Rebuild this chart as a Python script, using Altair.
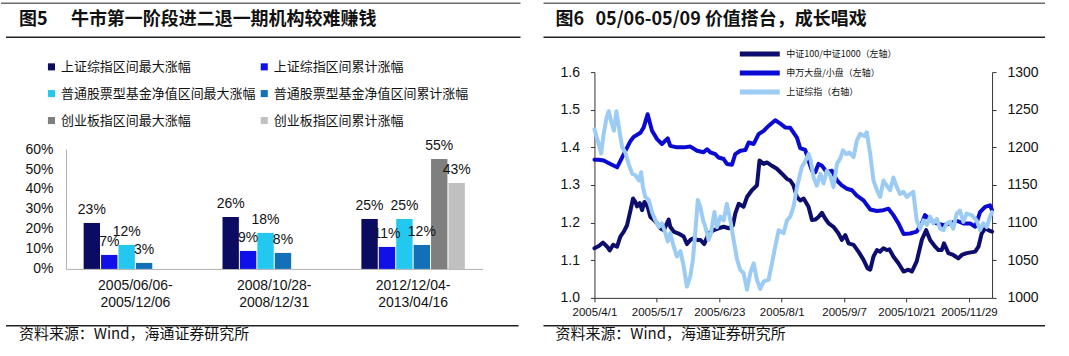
import altair as alt
import pandas as pd

FONT_CJK = "Noto Sans CJK SC"
FONT_LAT = "Liberation Sans"
W1, W2, H = 530, 539, 356

# ---------------- Left panel data (图5) ----------------
periods = ["2005/06/06-2005/12/06", "2008/10/28-2008/12/31", "2012/12/04-2013/04/16"]
bar_series = ["上证综指区间最大涨幅", "上证综指区间累计涨幅",
              "普通股票型基金净值区间最大涨幅", "普通股票型基金净值区间累计涨幅",
              "创业板指区间最大涨幅", "创业板指区间累计涨幅"]
bar_colors = ["#0b0b62", "#1010e8", "#22c8f0", "#1170b8", "#7f7f7f", "#c0c0c0"]
sz_max = [0.23, 0.26, 0.25]
sz_cum = [0.07, 0.09, 0.11]
fund_max = [0.12, 0.18, 0.25]
fund_cum = [0.03, 0.08, 0.12]
cyb_max = [None, None, 0.55]
cyb_cum = [None, None, 0.43]
pct_ticks = [0, 0.1, 0.2, 0.3, 0.4, 0.5, 0.6]

# ---------------- Right panel data (图6) ----------------
line_names = ["中证100/中证1000（左轴）", "申万大盘/小盘（左轴）", "上证综指（右轴）"]
line_colors = ["#0d0d6e", "#0a0ad2", "#9ccbf4"]
x_tick_vals = [0, 27, 54, 81, 108, 135, 162]
x_tick_labels = ["2005/4/1", "2005/5/17", "2005/6/23", "2005/8/1", "2005/9/7", "2005/10/21", "2005/11/29"]

navy_t = [0, 1.9, 3.7, 5.5, 6.6, 8.1, 9.8, 11.2, 12.7, 14.1, 15.6, 16.7, 17.7, 18.4, 19.6, 20.6, 21.6, 23.0,
          24.2, 25.6, 27.1, 28.5, 30.0, 32.1, 32.8, 34.3, 36.4, 38.6, 40.0, 41.5, 42.9, 44.4, 45.8, 47.5, 49.4,
          51.6, 53.7, 55.9, 58.1, 59.9, 60.9, 62.4, 64.5, 66.0, 68.1, 70.3, 71.4, 73.2, 74.6, 76.8, 78.9, 81.1,
          83.3, 84.7, 86.1, 87.6, 89.0, 90.5, 92.6, 94.1, 95.5, 96.9, 98.4, 99.8, 101.3, 103.4, 105.6, 107.0,
          108.5, 109.9, 112.1, 114.2, 116.4, 118.1, 119.3, 120.7, 122.2, 123.6, 125.0, 126.5, 127.6, 129.3,
          131.5, 133.7, 135.8, 137.3, 139.4, 141.6, 143.5, 145.2, 147.4, 148.8, 150.2, 151.2, 153.1, 155.2,
          157.4, 158.9, 161.0, 164.7, 166.1, 167.5, 169.0, 171.1, 172.0]
navy_v = [1.132, 1.138, 1.147, 1.136, 1.126, 1.141, 1.136, 1.163, 1.176, 1.193, 1.233, 1.264, 1.255, 1.243,
          1.252, 1.233, 1.255, 1.242, 1.215, 1.208, 1.198, 1.185, 1.180, 1.208, 1.189, 1.176, 1.171, 1.163,
          1.143, 1.154, 1.158, 1.154, 1.154, 1.143, 1.171, 1.180, 1.185, 1.189, 1.185, 1.193, 1.224, 1.250,
          1.242, 1.268, 1.286, 1.299, 1.365, 1.356, 1.360, 1.351, 1.343, 1.330, 1.316, 1.312, 1.299, 1.268,
          1.259, 1.264, 1.242, 1.207, 1.208, 1.215, 1.226, 1.211, 1.198, 1.189, 1.171, 1.154, 1.167, 1.145,
          1.141, 1.123, 1.101, 1.079, 1.075, 1.110, 1.127, 1.123, 1.132, 1.127, 1.129, 1.110, 1.092, 1.070,
          1.075, 1.070, 1.097, 1.154, 1.180, 1.154, 1.136, 1.127, 1.127, 1.145, 1.119, 1.114, 1.105, 1.114,
          1.119, 1.123, 1.136, 1.171, 1.185, 1.178, 1.176]

blue_t = [0, 1.9, 4.0, 6.9, 9.8, 12.7, 15.6, 17.0, 19.9, 21.3, 23.0, 24.9, 27.1, 29.2, 31.7, 32.8, 35.7, 38.6,
          41.5, 44.4, 47.2, 48.7, 50.1, 52.3, 53.7, 55.9, 57.3, 59.5, 60.9, 63.1, 65.3, 66.7, 68.9, 71.0, 73.2,
          75.3, 78.2, 80.4, 82.5, 84.7, 87.6, 89.0, 91.2, 92.6, 94.1, 95.5, 96.9, 98.4, 100.5, 102.7, 104.9,
          107.0, 109.2, 111.4, 113.5, 116.4, 119.3, 122.2, 125.0, 127.2, 129.3, 131.5, 133.7, 136.5, 139.4,
          141.6, 143.0, 145.2, 148.1, 151.0, 153.8, 156.7, 159.6, 162.5, 164.7, 166.8, 169.0, 171.1, 172.0]
blue_v = [1.367, 1.367, 1.365, 1.356, 1.347, 1.382, 1.417, 1.428, 1.439, 1.453, 1.488, 1.444, 1.422, 1.409,
          1.424, 1.404, 1.400, 1.400, 1.402, 1.391, 1.387, 1.395, 1.387, 1.382, 1.373, 1.369, 1.356, 1.354,
          1.382, 1.391, 1.393, 1.413, 1.409, 1.435, 1.444, 1.457, 1.472, 1.463, 1.453, 1.452, 1.426, 1.398,
          1.393, 1.365, 1.338, 1.334, 1.356, 1.351, 1.334, 1.338, 1.312, 1.299, 1.290, 1.286, 1.272, 1.259,
          1.235, 1.231, 1.233, 1.237, 1.220, 1.198, 1.170, 1.171, 1.176, 1.198, 1.220, 1.207, 1.198, 1.193,
          1.198, 1.205, 1.198, 1.198, 1.189, 1.228, 1.242, 1.246, 1.233]

sh_t = [0, 1.9, 2.9, 4.0, 5.2, 6.2, 7.2, 8.4, 9.5, 10.5, 12.0, 13.4, 14.8, 16.3, 17.7, 19.2, 20.2, 21.0, 22.0,
        23.5, 24.9, 26.4, 27.8, 29.2, 30.7, 31.7, 32.8, 34.3, 35.7, 37.2, 38.6, 40.0, 41.5, 42.6, 43.6, 44.7,
        45.8, 47.0, 48.0, 49.4, 50.4, 51.9, 53.0, 54.5, 55.9, 57.3, 58.8, 60.2, 61.7, 63.1, 64.5, 66.0, 67.4,
        68.9, 70.3, 71.7, 73.2, 75.3, 76.8, 78.2, 79.7, 81.8, 83.3, 84.7, 86.1, 87.6, 89.7, 91.2, 92.6, 93.6,
        94.8, 96.2, 97.7, 99.1, 100.5, 101.9, 103.4, 104.9, 106.3, 107.5, 108.9, 110.3, 112.1, 113.5, 114.9,
        116.7, 117.8, 119.3, 120.7, 122.2, 123.6, 125.0, 126.5, 127.9, 129.3, 130.8, 132.2, 133.7, 135.1,
        136.5, 137.9, 139.4, 140.9, 142.3, 143.8, 145.2, 146.6, 148.1, 149.5, 151.0, 152.4, 153.8, 155.2,
        156.7, 158.1, 159.6, 161.0, 163.2, 165.3, 166.8, 168.2, 169.7, 171.1, 172.0]
sh_v = [1224, 1204, 1192, 1218, 1239, 1248, 1235, 1222, 1248, 1228, 1200, 1193, 1178, 1165, 1163, 1156, 1167,
        1147, 1134, 1130, 1114, 1103, 1094, 1099, 1086, 1075, 1086, 1068, 1055, 1062, 1042, 1015, 1029, 1051,
        1086, 1130, 1121, 1103, 1094, 1077, 1086, 1114, 1094, 1108, 1103, 1125, 1103, 1077, 1051, 1037, 1033,
        1011, 1033, 1046, 1024, 1012, 1022, 1024, 1046, 1068, 1090, 1086, 1103, 1108, 1121, 1147, 1174, 1182,
        1191, 1182, 1160, 1149, 1165, 1152, 1169, 1163, 1147, 1178, 1185, 1196, 1191, 1193, 1187, 1209, 1218,
        1215, 1220, 1191, 1156, 1143, 1134, 1156, 1149, 1143, 1160, 1147, 1138, 1141, 1134, 1138, 1141, 1103,
        1092, 1103, 1097, 1108, 1099, 1105, 1092, 1090, 1099, 1101, 1092, 1112, 1116, 1101, 1112, 1110, 1103,
        1090, 1099, 1094, 1108, 1114]

title_left = ["图5", "牛市第一阶段进二退一期机构较难赚钱"]
title_right = ["图6", "05/06-05/09 价值搭台，成长唱戏"]
source_text = "资料来源：Wind，海通证券研究所"

# ---------------- helpers ----------------
one = pd.DataFrame({"k": [0]})


def hrule(x1, x2, y, w=1.2):
    return alt.Chart(one).mark_rule(color="#222222", strokeWidth=w).encode(
        x=alt.value(x1), x2=alt.value(x2), y=alt.value(y))


def label(txt, x, y, size, bold=False, font=FONT_CJK):
    return alt.Chart(pd.DataFrame({"txt": [txt]})).mark_text(
        align="left", baseline="middle", font=font, fontSize=size,
        fontWeight="bold" if bold else "normal", color="#111111").encode(
        x=alt.value(x), y=alt.value(y), text="txt:N")


# ---------------- Left panel ----------------
rows = []
for i, p in enumerate(periods):
    for s, vals in zip(bar_series, [sz_max, sz_cum, fund_max, fund_cum, cyb_max, cyb_cum]):
        if vals[i] is not None:
            rows.append({"period": p, "series": s, "value": vals[i]})
bars_df = pd.DataFrame(rows)

xb = alt.X("period:N", sort=periods,
           scale=alt.Scale(domain=periods, range=[65, 482], paddingInner=0.255, paddingOuter=0.1275),
           axis=alt.Axis(title=None, orient="bottom", offset=-87, labelAngle=0, ticks=False,
                         domainColor="#b0b0b0", labelFont=FONT_LAT, labelFontSize=14, labelColor="#111111",
                         labelPadding=10, labelLineHeight=17, labelOverlap=False,
                         labelExpr="[slice(datum.label,0,11), slice(datum.label,11)]"))
xo = alt.XOffset("series:N", sort=bar_series,
                 scale=alt.Scale(domain=bar_series, paddingInner=0.06, paddingOuter=0))
yb = alt.Y("value:Q", scale=alt.Scale(domain=[0, 0.6], range=[269, 149], nice=False, zero=True),
           axis=alt.Axis(title=None, orient="left", offset=-65, values=pct_ticks, format=".0%",
                         ticks=False, grid=False, domainColor="#b0b0b0", labelFont=FONT_LAT,
                         labelFontSize=14, labelColor="#111111", labelPadding=13))

bars = alt.Chart(bars_df).mark_bar().encode(
    x=xb, xOffset=xo, y=yb,
    color=alt.Color("series:N", sort=bar_series,
                    scale=alt.Scale(domain=bar_series, range=bar_colors),
                    legend=alt.Legend(title=None, orient="none", direction="horizontal",
                                      legendX=44, legendY=60, columns=2,
                                      symbolType="square", symbolSize=50, symbolStrokeWidth=0,
                                      labelFont=FONT_CJK, labelFontSize=13, labelColor="#111111",
                                      labelOffset=3, columnPadding=1, rowPadding=13, padding=0,
                                      labelLimit=400)))
bar_labels = alt.Chart(bars_df).mark_text(baseline="bottom", dy=-6, font=FONT_LAT, fontSize=14,
                                          color="#111111").encode(
    x=xb, xOffset=xo, y=yb, text=alt.Text("value:Q", format=".0%"))

left = alt.layer(
    hrule(0, 520, 3, 1.0), hrule(5, 520, 37, 1.5),
    label(title_left[0], 18, 20, 18, True), label(title_left[1], 70, 20, 18, True),
    bars, bar_labels,
    hrule(5, 518, 326, 1.5), label(source_text, 18, 334, 15),
).properties(width=W1, height=H)

# ---------------- Right panel ----------------
df_l = pd.concat([
    pd.DataFrame({"t": navy_t, "v": navy_v, "line": line_names[0]}),
    pd.DataFrame({"t": blue_t, "v": blue_v, "line": line_names[1]}),
])
df_r = pd.DataFrame({"t": sh_t, "r": sh_v, "line": line_names[2]})

label_expr = "[" + ",".join("'%s'" % s for s in x_tick_labels) + "][round(datum.value/27)]"
xl = alt.X("t:Q", scale=alt.Scale(domain=[0, 172], range=[64, 462], nice=False, zero=False),
           axis=alt.Axis(title=None, orient="bottom", offset=-58, values=x_tick_vals, labelExpr=label_expr,
                         tickSize=4, tickColor="#333333", domainColor="#333333", grid=False,
                         labelOverlap=False, labelBound=False, labelFlush=False,
                         labelFont=FONT_LAT, labelFontSize=11.5, labelColor="#111111", labelPadding=5))
color_l = alt.Color("line:N", sort=line_names,
                    scale=alt.Scale(domain=line_names, range=line_colors),
                    legend=alt.Legend(title=None, orient="none", legendX=207, legendY=49,
                                      symbolType="stroke", symbolSize=1600, symbolStrokeWidth=5,
                                      clipHeight=10, rowPadding=9, padding=0, labelOffset=4,
                                      labelFont=FONT_CJK, labelFontSize=9, labelColor="#111111",
                                      labelLimit=400))
axis_style = dict(title=None, tickSize=4, tickColor="#333333", domainColor="#333333", grid=False,
                  labelFont=FONT_LAT, labelFontSize=14, labelColor="#111111", labelPadding=11)

lines_left = alt.Chart(df_l).mark_line(strokeWidth=4, strokeCap="round", strokeJoin="round").encode(
    x=xl,
    y=alt.Y("v:Q", scale=alt.Scale(domain=[1.0, 1.6], range=[298, 72], nice=False, zero=False),
            axis=alt.Axis(orient="left", offset=-64, values=[1.0, 1.1, 1.2, 1.3, 1.4, 1.5, 1.6],
                          format=".1f", **axis_style)),
    color=color_l)
lines_right = alt.Chart(df_r).mark_line(strokeWidth=4, strokeCap="round", strokeJoin="round").encode(
    x=xl,
    y=alt.Y("r:Q", scale=alt.Scale(domain=[1000, 1300], range=[298, 72], nice=False, zero=False),
            axis=alt.Axis(orient="right", offset=-77, values=[1000, 1050, 1100, 1150, 1200, 1250, 1300],
                          format="d", **axis_style)),
    color=color_l)

right = alt.layer(
    hrule(13, 515, 3, 1.0), hrule(13, 515, 37, 1.5),
    label(title_right[0], 25, 20, 18, True), label(title_right[1], 65, 20, 18, True),
    lines_left, lines_right,
    hrule(13, 515, 326, 1.5), label(source_text, 25, 334, 15),
).resolve_scale(y="independent").properties(width=W2, height=H)

chart = alt.hconcat(left, right, spacing=0).resolve_scale(
    color="independent", x="independent", y="independent"
).resolve_legend(color="independent").properties(
    padding=0, background="white"
).configure_view(strokeWidth=0)

chart.save("out.html", embed_options={"renderer": "svg", "actions": False})
